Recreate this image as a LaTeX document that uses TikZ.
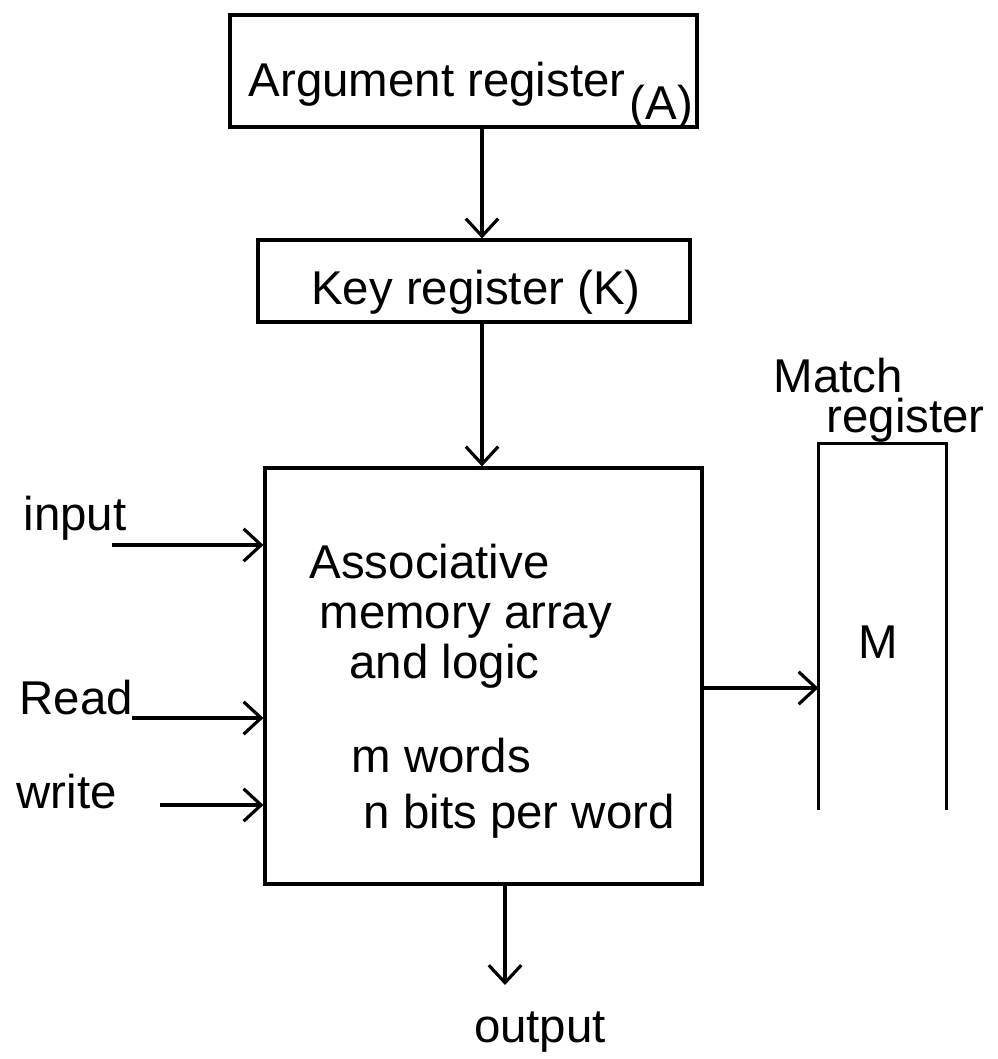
\documentclass[tikz,border=0pt]{standalone}
\usepackage{fontspec}
\setmainfont{Liberation Sans}
\usetikzlibrary{arrows.meta,fit}
\begin{document}
\begin{tikzpicture}[x=0.02cm,y=-0.02cm,
  line width=1.8pt,
  box/.style={draw,inner sep=0pt},
  lbl/.style={font=\fontsize{27}{32}\selectfont,inner sep=0pt},
  arr/.style={-{Straight Barb[length=3.5mm,width=6.5mm,line width=1.8pt]}}]
\useasboundingbox[fill=white] (0,0) rectangle (998,1059);

% argument register
\node[box,fit={(230,15) (697,127)}] (arg) {};
\node[lbl,anchor=base west] (argt) at (247,96) {Argument register};
\node[lbl,anchor=base west] (arga) at (628,119) {(A)};

% key register
\node[box,fit={(258,240) (690,322)}] (key) {};
\node[lbl,anchor=base] (keyt) at (476,304) {Key register (K)};

% associative memory array
\node[box,fit={(265,468) (702,884)}] (mem) {};
\node[lbl,anchor=base west] (m1) at (308,578) {Associative};
\node[lbl,anchor=base west] (m2) at (318,628) {memory array};
\node[lbl,anchor=base west] (m3) at (348,678) {and logic};
\node[lbl,anchor=base west] (m4) at (350,772) {m words};
\node[lbl,anchor=base west] (m5) at (362,828) {n bits per word};

% match register (open at the bottom)
\node[fit={(820,445) (945,808)},inner sep=0pt] (mreg) {};
\draw (mreg.south west) -- (mreg.north west) -- (mreg.north east) -- (mreg.south east);
\node[lbl,anchor=base] (mt) at (878,658) {M};
\node[lbl,anchor=base west] (mlab1) at (772,392) {Match};
\node[lbl,anchor=base west] (mlab2) at (825,432) {register};

% vertical data path
\draw[arr] (arg.south -| 482,0) -- (key.north -| 482,0);
\draw[arr] (key.south -| 482,0) -- (mem.north -| 482,0);
\draw[arr] (mem.south -| 505,0) -- (505,985) coordinate (outend);
\node[lbl,anchor=base] (outt) at (540,1042) {output};

% control inputs
\node[lbl,anchor=base west] (int) at (22,530) {input};
\coordinate (ins) at (112,545);
\draw[arr] (ins) -- (ins -| mem.west);
\node[lbl,anchor=base west] (rdt) at (18,714) {Read};
\coordinate (rds) at (132,718);
\draw[arr] (rds) -- (rds -| mem.west);
\node[lbl,anchor=base west] (wrt) at (15,808) {write};
\coordinate (wrs) at (160,805);
\draw[arr] (wrs) -- (wrs -| mem.west);

% match output
\coordinate (mo) at (702,688);
\draw[arr] (mo) -- (mo -| mreg.west);
\end{tikzpicture}
\end{document}
